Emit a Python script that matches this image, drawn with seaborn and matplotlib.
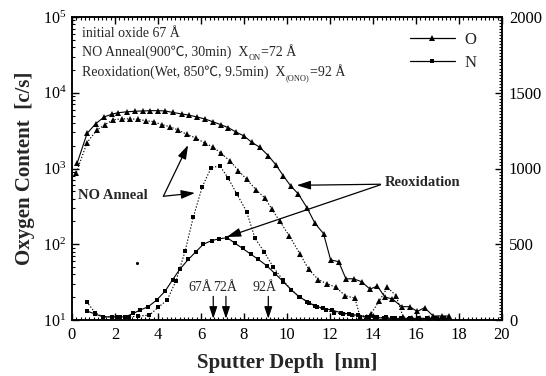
import matplotlib
matplotlib.use("Agg")
import numpy as np
import pandas as pd
import matplotlib.pyplot as plt
import seaborn as sns
from matplotlib.ticker import MultipleLocator, LogLocator, NullFormatter
from matplotlib.lines import Line2D

# ---------------- data ----------------
reox_o_depth = [0.25, 0.7, 1.1, 1.5, 1.85, 2.15, 2.54, 2.93, 3.3, 3.65, 4.0, 4.33, 4.68, 5.1,
                5.46, 5.8, 6.19, 6.54, 6.92, 7.27, 7.63, 8.0, 8.36, 8.74, 9.13, 9.49, 9.83,
                10.17, 10.53, 10.94, 11.3, 11.7, 12.03, 12.4, 12.74, 13.1, 13.47, 13.86,
                14.2, 14.56, 14.9, 15.33, 15.7, 16.06, 16.4, 16.8, 17.2, 17.55]
reox_o_val = [1200, 2900, 3900, 4800, 5200, 5450, 5600, 5700, 5750, 5800, 5800, 5750, 5500, 5250,
              5050, 4800, 4500, 4150, 3790, 3460, 3030, 2690, 2220, 1900, 1480, 1110, 800,
              590, 460, 300, 189, 138, 62, 59, 35, 35, 32, 25.6,
              28, 20, 19, 15, 15, 13, 14.5, 11.3, 11.3, 11.3]

noann_o_depth = [0.2, 0.7, 1.15, 1.53, 1.92, 2.31, 2.7, 3.08, 3.44, 3.81, 4.17, 4.56, 4.94,
                 5.33, 5.77, 6.19, 6.57, 6.92, 7.35, 7.74, 8.12, 8.56, 8.98, 9.3, 9.67, 10.1,
                 10.6, 11.0, 11.46, 11.88, 12.28, 12.7, 13.16, 13.4, 13.9, 14.3, 14.67, 15.07,
                 15.4, 15.8, 16.2, 16.6, 17.0]
noann_o_val = [880, 2200, 3200, 3800, 4400, 4520, 4520, 4460, 4270, 4150, 3800, 3550, 3220,
               2830, 2520, 2150, 1910, 1590, 1260, 940, 720, 525, 405, 290, 200, 130,
               75, 47, 34, 30, 27, 21, 19.4, 11, 12, 18, 27, 21,
               11, 10.5, 10.5, 10.5, 10.5]

noann_n_depth = [0.68, 1.07, 1.45, 1.85, 2.25, 2.65, 3.05, 3.6, 4.01, 4.43, 4.84, 5.26, 5.64,
                 6.06, 6.47, 6.88, 7.27, 7.66, 8.12, 8.51, 8.93, 9.36, 9.8, 10.2, 10.6, 11.0,
                 11.4, 11.8, 12.2, 12.6, 13.0, 13.4, 13.8, 14.2, 14.6, 15.0]
noann_n_val = [17.5, 12.5, 11, 11, 11, 11, 11.2, 11.6, 14.7, 18.4, 33, 81, 227,
               575, 1020, 1085, 740, 465, 270, 120, 80, 50, 34, 25, 20, 17,
               15, 13.5, 12.5, 12, 11.5, 11, 11, 10.8, 10.8, 10.5]

reox_n_depth = [0.68, 1.07, 1.45, 1.85, 2.1, 2.47, 2.85, 3.16, 3.55, 3.94, 4.33, 4.68, 5.02,
                5.41, 5.77, 6.11, 6.5, 6.85, 7.22, 7.58, 7.94, 8.31, 8.67, 9.06, 9.44, 9.83,
                10.2, 10.55, 10.94, 11.3, 11.69, 12.1, 12.5, 12.9, 13.3, 13.7, 14.1, 14.5,
                14.9, 15.3, 15.7, 16.1, 16.5, 16.9, 17.3]
reox_n_val = [13.2, 12, 11, 11, 11, 11, 12.2, 13.5, 15, 18.4, 24, 34, 47,
              63, 80, 100, 112, 118, 122, 103, 88, 74, 63, 52, 41, 32,
              25, 20.4, 17.5, 15.3, 14.3, 13.5, 12.5, 12, 11.5, 11, 10.8, 10.6,
              10.5, 10.5, 10.5, 10.5, 10.5, 10.5, 10.5]

stray_depth = [3.0]
stray_val = [57]

thickness_labels = ["67Å", "72Å", "92Å"]
thickness_depth = [6.57, 7.16, 9.13]
thickness_label_x = [5.95, 7.1, 8.95]

# ---------------- style ----------------
sns.set_theme(style="ticks")
FAM = ['Liberation Serif', 'Noto Sans CJK SC', 'DejaVu Sans']
plt.rcParams['font.family'] = FAM
plt.rcParams['mathtext.fontset'] = 'stix'
plt.rcParams['axes.linewidth'] = 1.1

fig = plt.figure(figsize=(5.46, 3.76), dpi=100)
ax = fig.add_axes([72 / 546, 56 / 376, 430 / 546, 303 / 376])

def draw(depth, val, marker, ls, ms):
    df = pd.DataFrame({"depth": depth, "val": val})
    sns.lineplot(data=df, x="depth", y="val", ax=ax, color="black", marker=marker,
                 linestyle=ls, linewidth=0.8, markersize=ms, markeredgewidth=0,
                 estimator=None, sort=False, legend=False)

dotted = (0, (1.2, 1.6))
draw(reox_o_depth, reox_o_val, "^", "-", 4.2)
draw(noann_o_depth, noann_o_val, "^", dotted, 4.2)
draw(noann_n_depth, noann_n_val, "s", dotted, 3.4)
draw(reox_n_depth, reox_n_val, "s", "-", 3.4)
sns.scatterplot(x=stray_depth, y=stray_val, ax=ax, color="black", s=5, linewidth=0, legend=False)

ax.set_yscale("log")
ax.set_xlim(0, 20)
ax.set_ylim(10, 1e5)
ax.xaxis.set_major_locator(MultipleLocator(2))
ax.xaxis.set_minor_locator(MultipleLocator(0.2))
ax.yaxis.set_major_locator(LogLocator(base=10, numticks=10))
ax.yaxis.set_minor_locator(LogLocator(base=10, subs=np.arange(2, 10), numticks=20))
ax.yaxis.set_minor_formatter(NullFormatter())
ax.tick_params(which="both", direction="in", top=True, right=False, colors="black")
ax.tick_params(which="major", length=5, width=1.0)
ax.tick_params(which="minor", length=2.5, width=0.8)
ax.tick_params(axis="x", labelsize=12, pad=5)
ax.tick_params(axis="y", labelsize=11.5, pad=4)

ax.set_xlabel("Sputter Depth  [nm]", fontsize=15, fontweight="bold", labelpad=7)
ax.set_ylabel("Oxygen Content  [c/s]", fontsize=15, fontweight="bold", labelpad=6)

ax2 = ax.twinx()
ax2.set_ylim(0, 2000)
ax2.yaxis.set_major_locator(MultipleLocator(500))
ax2.yaxis.set_minor_locator(MultipleLocator(20))
ax2.tick_params(which="both", direction="in", colors="black")
ax2.tick_params(which="major", length=5, width=1.0, labelsize=12, pad=5)
ax2.tick_params(which="minor", length=2.5, width=0.8)
for sp in ax2.spines.values():
    sp.set_linewidth(1.1)
    sp.set_color("black")
for sp in ax.spines.values():
    sp.set_color("black")

# top-left description (plain text pieces so that the ℃ glyph can fall back)
tkw = dict(transform=ax.transAxes, fontsize=10, ha="left", va="bottom", family=FAM)
ax.text(0.023, 0.925, "initial oxide 67 Å", **tkw)

def line_with_sub(y, main, sub, tail):
    t1 = ax.text(0.023, y, main, **tkw)
    t2 = ax.annotate(sub, xy=(1, 0), xycoords=t1, xytext=(0.3, -2.2),
                     textcoords="offset points", ha="left", va="bottom",
                     fontsize=6, family=FAM)
    ax.annotate(tail, xy=(1, 0), xycoords=(t2, t1), xytext=(0.3, 0),
                textcoords="offset points", ha="left", va="bottom",
                fontsize=10, family=FAM)

line_with_sub(0.862, "NO Anneal(900℃, 30min)  X", "ON", "=72 Å")
line_with_sub(0.796, "Reoxidation(Wet, 850℃, 9.5min)  X", "(ONO)", "=92 Å")

# legend
handles = [Line2D([], [], color="black", lw=0.9, marker="^", markersize=4.2, markeredgewidth=0),
           Line2D([], [], color="black", lw=0.9, marker="s", markersize=3.4, markeredgewidth=0)]
ax.legend(handles, ["O", "N"], loc="upper left", bbox_to_anchor=(0.766, 0.978),
          frameon=False, fontsize=12, handlelength=2.7, handletextpad=0.6,
          labelspacing=0.42, borderpad=0)

# annotations
arw = dict(arrowstyle="-|>,head_length=0.7,head_width=0.22", color="black", lw=0.9,
           shrinkA=0, shrinkB=0)
ax.text(0.28, 434, "NO Anneal", fontsize=10.5, fontweight="bold", ha="left", va="center")
ax.annotate("", xy=(5.4, 2040), xytext=(4.25, 430), arrowprops=arw)
ax.annotate("", xy=(5.72, 475), xytext=(4.25, 430), arrowprops=arw)

ax.text(14.55, 650, "Reoxidation", fontsize=10.5, fontweight="bold", ha="left", va="center")
ax.annotate("", xy=(10.45, 600), xytext=(14.35, 620), arrowprops=arw)
ax.annotate("", xy=(7.2, 125), xytext=(14.35, 610), arrowprops=arw)

arw2 = dict(arrowstyle="-|>,head_length=0.6,head_width=0.2", color="black", lw=0.9,
            shrinkA=0, shrinkB=0)
for lab, xd, xl in zip(thickness_labels, thickness_depth, thickness_label_x):
    ax.annotate("", xy=(xd, 10.4), xytext=(xd, 20.5), arrowprops=arw2)
    ax.text(xl, 26.5, lab, fontsize=10, ha="center", va="center")

fig.savefig("out.png", dpi=100)
